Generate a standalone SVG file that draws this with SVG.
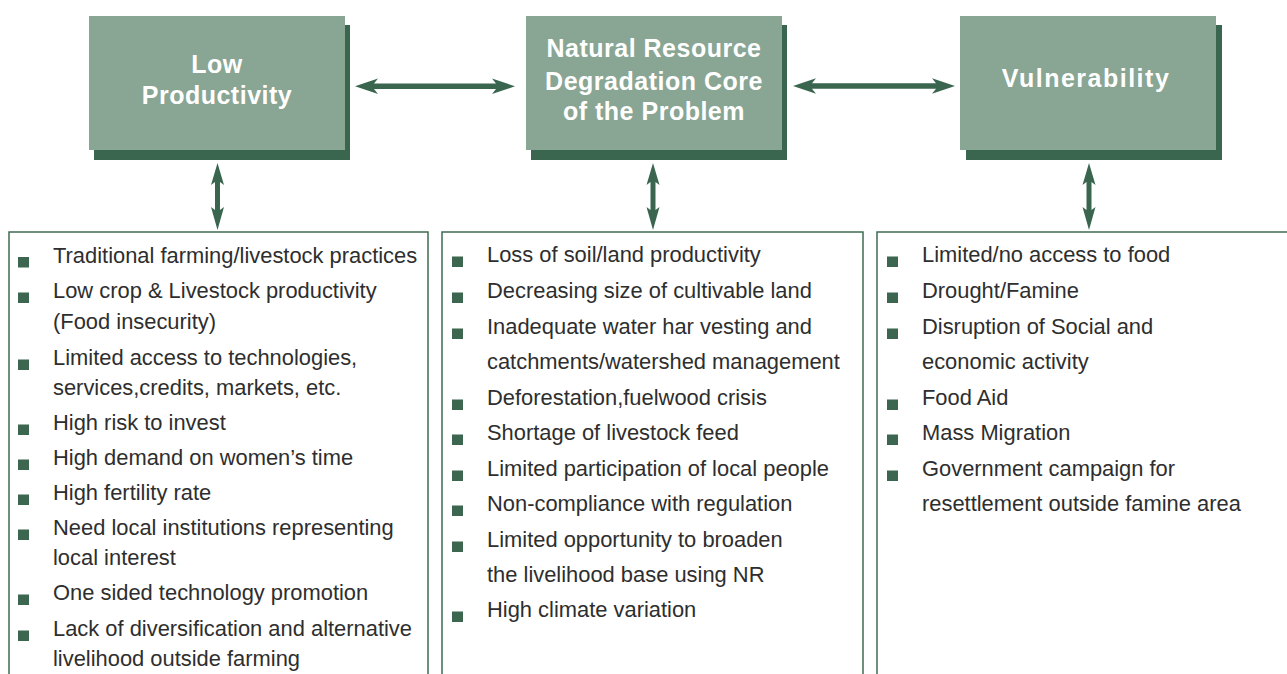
<svg xmlns="http://www.w3.org/2000/svg" width="1287" height="674" viewBox="0 0 1287 674">
<style>
.shadow{fill:#3a6650}
.box{fill:#89a594}
.title{font-family:"Liberation Sans",Arial,sans-serif;font-weight:bold;font-size:25px;fill:#ffffff;text-anchor:middle;letter-spacing:0.5px}
.list{fill:#ffffff;stroke:#3e6b52;stroke-width:1.5}
.item{font-family:"Liberation Sans",Arial,sans-serif;font-size:21.9px;fill:#2e2e2e}
.bul{fill:#3d6651}
.arrow{fill:#3a6650}
</style>

<g id="node-low-productivity">
<rect class="shadow" x="94" y="25" width="256" height="135"/>
<rect class="box" x="89" y="16" width="256" height="134"/>
<text class="title" x="217" y="73">Low</text>
<text class="title" x="217" y="104">Productivity</text>
</g>

<g id="node-natural-resource">
<rect class="shadow" x="531" y="25" width="256" height="135"/>
<rect class="box" x="526" y="16" width="256" height="134"/>
<text class="title" x="654" y="57">Natural Resource</text>
<text class="title" x="654" y="90">Degradation Core</text>
<text class="title" x="654" y="120">of the Problem</text>
</g>

<g id="node-vulnerability">
<rect class="shadow" x="966" y="25" width="256" height="135"/>
<rect class="box" x="960" y="16" width="256" height="134"/>
<text class="title" x="1086" y="87" style="letter-spacing:1.5px">Vulnerability</text>
</g>

<g id="connectors">
<polygon class="arrow" points="355,86.3 378,78.5 374,83.5 496,83.5 492,78.5 515,86.3 492,94 496,89 374,89 378,94"/>
<polygon class="arrow" points="793,86 816,78.2 812,83.2 936,83.2 932,78.2 955,86 932,93.8 936,88.8 812,88.8 816,93.8"/>
<polygon class="arrow" points="217.5,163 224,185 220,182 220,210 224,207 217.5,230 211,207 215,210 215,182 211,185"/>
<polygon class="arrow" points="653,163 659.5,185 655.5,182 655.5,210 659.5,207 653,230 646.5,207 650.5,210 650.5,182 646.5,185"/>
<polygon class="arrow" points="1089,163 1095.5,185 1091.5,182 1091.5,210 1095.5,207 1089,230 1082.5,207 1086.5,210 1086.5,182 1082.5,185"/>
</g>

<g id="list-low-productivity">
<rect class="list" x="9" y="232" width="419" height="460"/>
<rect class="bul" x="18" y="257" width="11" height="10.5"/>
<text class="item" x="53" y="263">Traditional farming/livestock practices</text>
<rect class="bul" x="18" y="292.5" width="11" height="10.5"/>
<text class="item" x="53" y="298">Low crop &amp; Livestock productivity</text>
<text class="item" x="53" y="329">(Food insecurity)</text>
<rect class="bul" x="18" y="359.5" width="11" height="10.5"/>
<text class="item" x="53" y="365">Limited access to technologies,</text>
<text class="item" x="53" y="395">services,credits, markets, etc.</text>
<rect class="bul" x="18" y="424.5" width="11" height="10.5"/>
<text class="item" x="53" y="430">High risk to invest</text>
<rect class="bul" x="18" y="459.5" width="11" height="10.5"/>
<text class="item" x="53" y="465">High demand on women’s time</text>
<rect class="bul" x="18" y="494.5" width="11" height="10.5"/>
<text class="item" x="53" y="500">High fertility rate</text>
<rect class="bul" x="18" y="529.5" width="11" height="10.5"/>
<text class="item" x="53" y="535">Need local institutions representing</text>
<text class="item" x="53" y="565">local interest</text>
<rect class="bul" x="18" y="594.5" width="11" height="10.5"/>
<text class="item" x="53" y="600">One sided technology promotion</text>
<rect class="bul" x="18" y="630.5" width="11" height="10.5"/>
<text class="item" x="53" y="636">Lack of diversification and alternative</text>
<text class="item" x="53" y="666">livelihood outside farming</text>
</g>

<g id="list-natural-resource">
<rect class="list" x="442" y="232" width="421" height="460"/>
<rect class="bul" x="452" y="256.5" width="11" height="10.5"/>
<text class="item" x="487" y="262">Loss of soil/land productivity</text>
<rect class="bul" x="452" y="292.5" width="11" height="10.5"/>
<text class="item" x="487" y="298">Decreasing size of cultivable land</text>
<rect class="bul" x="452" y="328.5" width="11" height="10.5"/>
<text class="item" x="487" y="334">Inadequate water har vesting and</text>
<text class="item" x="487" y="369">catchments/watershed management</text>
<rect class="bul" x="452" y="399.5" width="11" height="10.5"/>
<text class="item" x="487" y="405">Deforestation,fuelwood crisis</text>
<rect class="bul" x="452" y="434.5" width="11" height="10.5"/>
<text class="item" x="487" y="440">Shortage of livestock feed</text>
<rect class="bul" x="452" y="470.5" width="11" height="10.5"/>
<text class="item" x="487" y="476">Limited participation of local people</text>
<rect class="bul" x="452" y="505.5" width="11" height="10.5"/>
<text class="item" x="487" y="511">Non-compliance with regulation</text>
<rect class="bul" x="452" y="541.5" width="11" height="10.5"/>
<text class="item" x="487" y="547">Limited opportunity to broaden</text>
<text class="item" x="487" y="582">the livelihood base using NR</text>
<rect class="bul" x="452" y="611.5" width="11" height="10.5"/>
<text class="item" x="487" y="617">High climate variation</text>
</g>

<g id="list-vulnerability">
<rect class="list" x="877" y="232" width="430" height="460"/>
<rect class="bul" x="887" y="256.5" width="11" height="10.5"/>
<text class="item" x="922" y="262">Limited/no access to food</text>
<rect class="bul" x="887" y="292.5" width="11" height="10.5"/>
<text class="item" x="922" y="298">Drought/Famine</text>
<rect class="bul" x="887" y="328.5" width="11" height="10.5"/>
<text class="item" x="922" y="334">Disruption of Social and</text>
<text class="item" x="922" y="369">economic activity</text>
<rect class="bul" x="887" y="399.5" width="11" height="10.5"/>
<text class="item" x="922" y="405">Food Aid</text>
<rect class="bul" x="887" y="434.5" width="11" height="10.5"/>
<text class="item" x="922" y="440">Mass Migration</text>
<rect class="bul" x="887" y="470.5" width="11" height="10.5"/>
<text class="item" x="922" y="476">Government campaign for</text>
<text class="item" x="922" y="511">resettlement outside famine area</text>
</g>
</svg>
